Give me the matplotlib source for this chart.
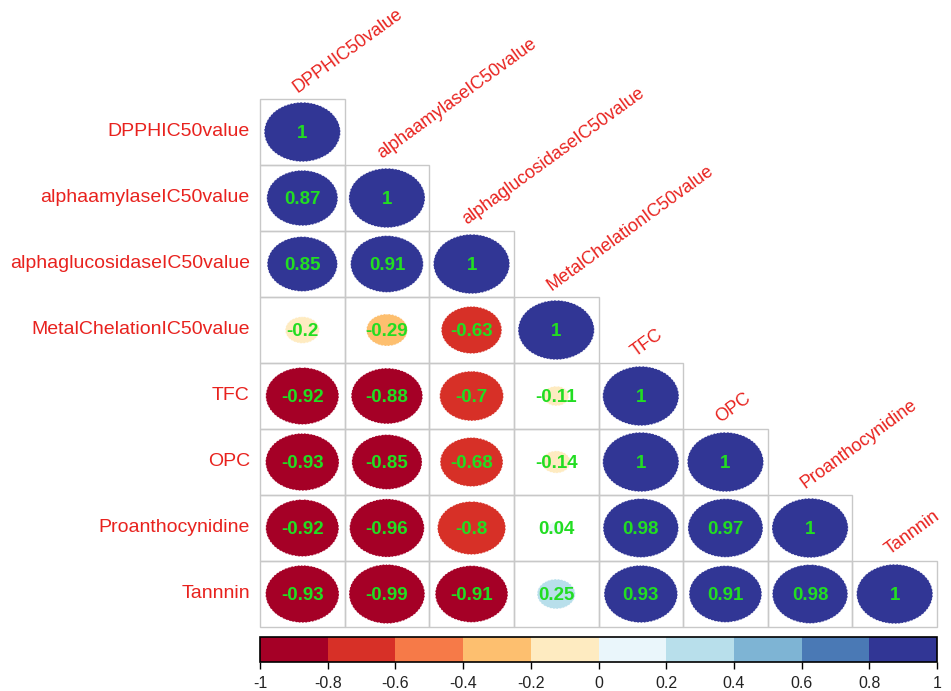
import numpy as np
import matplotlib.pyplot as plt
from matplotlib.patches import Ellipse, Rectangle
from matplotlib.colors import ListedColormap, BoundaryNorm

plt.rcParams['font.family'] = ['Liberation Sans', 'DejaVu Sans']

labels = ["DPPHIC50value", "alphaamylaseIC50value", "alphaglucosidaseIC50value",
          "MetalChelationIC50value", "TFC", "OPC", "Proanthocynidine", "Tannnin"]

# lower triangle of the correlation matrix, row by row
corr_rows = [
    [1],
    [0.87, 1],
    [0.85, 0.91, 1],
    [-0.2, -0.29, -0.63, 1],
    [-0.92, -0.88, -0.7, -0.11, 1],
    [-0.93, -0.85, -0.68, -0.14, 1, 1],
    [-0.92, -0.96, -0.8, 0.04, 0.98, 0.97, 1],
    [-0.93, -0.99, -0.91, 0.25, 0.93, 0.91, 0.98, 1],
]

bin_colors = ["#A50026", "#D73027", "#F67A48", "#FDBF6F", "#FEEBC1",
              "#EAF6FB", "#B8DFEB", "#7EB4D4", "#4A79B5", "#313695"]
bounds = np.round(np.linspace(-1, 1, 11), 1)
cmap = ListedColormap(bin_colors)
norm = BoundaryNorm(bounds, cmap.N)

W, H = 951, 691
fig = plt.figure(figsize=(W / 100, H / 100), dpi=100)

gx0, gx1, gy0, gy1 = 260, 937, 99, 627
ax = fig.add_axes([gx0 / W, 1 - gy1 / H, (gx1 - gx0) / W, (gy1 - gy0) / H])
n = len(labels)
ax.set_xlim(0, n)
ax.set_ylim(n, 0)
ax.axis('off')

for i, row in enumerate(corr_rows):
    for j, r in enumerate(row):
        ax.add_patch(Rectangle((j, i), 1, 1, fill=False, edgecolor='#C8C8C8', lw=1, clip_on=False))
        d = 0.9 * np.sqrt(abs(r))
        ax.add_patch(Ellipse((j + 0.5, i + 0.5), d, d, facecolor=cmap(norm(r)),
                             edgecolor='white', lw=0.6, linestyle=(0, (2, 2))))
        ax.text(j + 0.5, i + 0.52, f"{r:g}", ha='center', va='center',
                color='#22DD22', fontsize=13.5, fontweight='bold')

for i, lab in enumerate(labels):
    ax.text(-0.12, i + 0.5, lab, ha='right', va='center', color='#E8221E', fontsize=14)
    ax.text(i + 0.47, i - 0.04, lab, ha='left', va='bottom', rotation=36,
            rotation_mode='anchor', color='#E8221E', fontsize=13)

# colour legend
cax = fig.add_axes([gx0 / W, 1 - 662 / H, (gx1 - gx0) / W, 25 / H])
cb = fig.colorbar(plt.cm.ScalarMappable(norm=norm, cmap=cmap), cax=cax,
                  orientation='horizontal', ticks=bounds)
cb.outline.set_linewidth(1.2)
cb.ax.set_xticklabels([f"{b:g}" for b in bounds])
cb.ax.tick_params(length=5, width=1, labelsize=11.5, pad=5, labelcolor='#222222')

fig.savefig("out.png", dpi=100)
